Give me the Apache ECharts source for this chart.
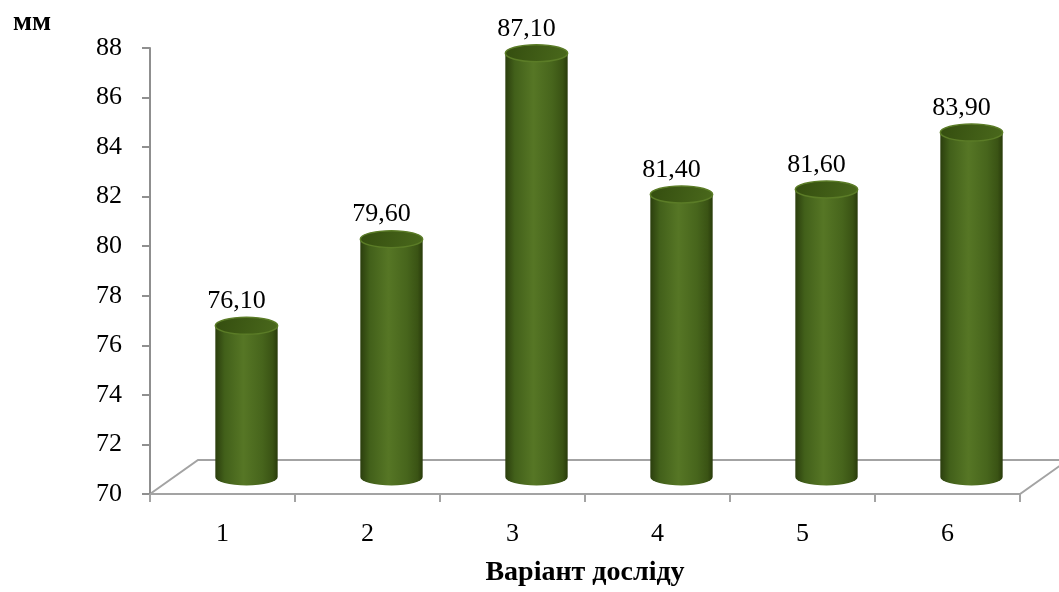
<!DOCTYPE html>
<html>
<head>
<meta charset="utf-8">
<script src="https://cdn.jsdelivr.net/npm/echarts@6/dist/echarts.min.js"></script>
<style>
  html, body { margin: 0; padding: 0; background: #fff; }
  #chart { width: 1059px; height: 592px; }
</style>
</head>
<body>
<div id="chart"></div>
<script>
// Варіанти досліду та виміряні значення, мм
const categories = ['1', '2', '3', '4', '5', '6'];
const values = [76.1, 79.6, 87.1, 81.4, 81.6, 83.9];
const yMin = 70, yMax = 88, yStep = 2;

const FONT = '"Liberation Serif", "Times New Roman", serif';
// perspective depth of the floor and how far into it the cylinders stand
const DEPTH_X = 48, DEPTH_Y = -34;
const BAR_DX = DEPTH_X / 2, BAR_DY = DEPTH_Y / 2;
const ELL_RY = 8.5;

const bodyGradient = new echarts.graphic.LinearGradient(0, 0, 1, 0, [
  { offset: 0, color: '#2b3e0d' },
  { offset: 0.15, color: '#42601a' },
  { offset: 0.45, color: '#567625' },
  { offset: 0.75, color: '#47651c' },
  { offset: 0.92, color: '#3a5314' },
  { offset: 1, color: '#293b0b' }
]);
const topGradient = new echarts.graphic.LinearGradient(0, 0, 1, 1, [
  { offset: 0, color: '#344d0f' },
  { offset: 1, color: '#4a691c' }
]);

function fmt(v) { return v.toFixed(2).replace('.', ','); }

function renderFloor(params, api) {
  const cs = params.coordSys;
  const y0 = api.coord([0, yMin])[1];
  const xl = cs.x, xr = cs.x + cs.width;
  return {
    type: 'polygon',
    shape: { points: [[xl, y0], [xl + DEPTH_X, y0 + DEPTH_Y], [xr + DEPTH_X, y0 + DEPTH_Y], [xr, y0]] },
    style: { fill: '#ffffff', stroke: '#a3a3a3', lineWidth: 2 },
    z2: 0
  };
}

function renderCylinder(params, api) {
  const idx = api.value(0);
  const val = api.value(1);
  const base = api.coord([idx, yMin]);
  const top = api.coord([idx, val]);
  const w = api.size([1, 0])[0] * 0.43;
  const rx = w / 2, ry = ELL_RY;
  const cx = base[0] + BAR_DX;
  const yb = base[1] + BAR_DY;
  const yt = top[1] + BAR_DY;
  const x0 = cx - rx, x1 = cx + rx;
  const bodyPath = `M${x0} ${yt} L${x0} ${yb} A${rx} ${ry} 0 0 0 ${x1} ${yb} L${x1} ${yt} Z`;
  const topPath = `M${x0} ${yt} A${rx} ${ry} 0 1 0 ${x1} ${yt} A${rx} ${ry} 0 1 0 ${x0} ${yt} Z`;
  return {
    type: 'group',
    children: [
      { type: 'path', shape: { pathData: bodyPath }, style: { fill: bodyGradient } },
      { type: 'path', shape: { pathData: topPath }, style: { fill: topGradient, stroke: '#5b7c27', lineWidth: 1.5 } },
      {
        type: 'text',
        style: {
          text: fmt(val), x: cx - 10, y: yt - ry - 3,
          align: 'center', verticalAlign: 'bottom',
          font: '26px ' + FONT, fill: '#000'
        }
      }
    ]
  };
}

const chart = echarts.init(document.getElementById('chart'), null, { renderer: 'canvas' });
chart.setOption({
  animation: false,
  backgroundColor: '#ffffff',
  title: {
    text: 'мм', left: 8, top: 4,
    textStyle: { fontFamily: FONT, fontSize: 28, fontWeight: 'bold', color: '#000' }
  },
  grid: { left: 150, right: 39, top: 48, bottom: 98, containLabel: false, outerBoundsMode: 'none' },
  xAxis: {
    type: 'category',
    data: categories,
    boundaryGap: true,
    name: 'Варіант досліду',
    nameLocation: 'middle',
    nameGap: 65,
    nameTextStyle: { fontFamily: FONT, fontSize: 28, fontWeight: 'bold', color: '#000' },
    axisLine: { lineStyle: { color: '#a3a3a3', width: 2 } },
    axisTick: { show: true, length: 8, lineStyle: { color: '#a3a3a3', width: 2 } },
    axisLabel: { margin: 27, fontFamily: FONT, fontSize: 26, color: '#000' },
    z: 5
  },
  yAxis: {
    type: 'value',
    min: yMin, max: yMax, interval: yStep,
    axisLine: { show: true, lineStyle: { color: '#8f8f8f', width: 2 } },
    axisTick: { show: true, length: 8, lineStyle: { color: '#8f8f8f', width: 2 } },
    axisLabel: { margin: 28, fontFamily: FONT, fontSize: 26, color: '#000' },
    splitLine: { show: false },
    z: 5
  },
  series: [
    {
      type: 'custom',
      renderItem: renderFloor,
      data: [[0, yMin]],
      encode: { x: 0, y: 1 },
      silent: true,
      clip: false,
      z: 1
    },
    {
      type: 'custom',
      renderItem: renderCylinder,
      data: values.map((v, i) => [i, v]),
      encode: { x: 0, y: 1 },
      clip: false,
      z: 3
    }
  ]
});
</script>
</body>
</html>
